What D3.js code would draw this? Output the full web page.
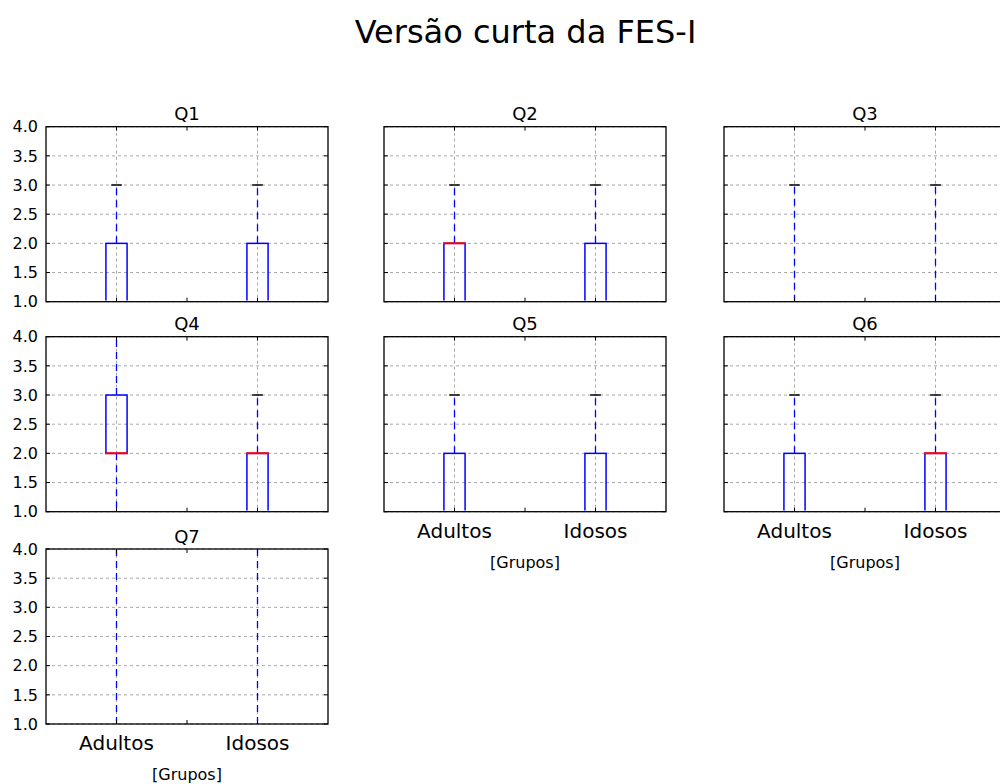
<!DOCTYPE html>
<html>
<head>
<meta charset="utf-8">
<script src="https://cdn.jsdelivr.net/npm/d3@7"></script>
<style>
  body { margin: 0; background: #fff; }
  svg { display: block; }
  text { font-family: "DejaVu Sans", sans-serif; fill: #000; }
</style>
</head>
<body>
<svg id="chart" width="1000" height="784"></svg>
<script>
// ---- data ----
const title = "Versão curta da FES-I";
const groups = ["Adultos", "Idosos"];
const panels = ["Q1", "Q2", "Q3", "Q4", "Q5", "Q6", "Q7"];
const xAxisLabel = "[Grupos]";
const yTicks = [1.0, 1.5, 2.0, 2.5, 3.0, 3.5, 4.0];
// box stats per panel: [lowWhisker, q1, median, q3, highWhisker] for Adultos, Idosos
const statsQ1 = [[1, 1, 1, 2, 3], [1, 1, 1, 2, 3]];
const statsQ2 = [[1, 1, 2, 2, 3], [1, 1, 1, 2, 3]];
const statsQ3 = [[1, 1, 1, 1, 3], [1, 1, 1, 1, 3]];
const statsQ4 = [[1, 2, 2, 3, 4], [1, 1, 2, 2, 3]];
const statsQ5 = [[1, 1, 1, 2, 3], [1, 1, 1, 2, 3]];
const statsQ6 = [[1, 1, 1, 2, 3], [1, 1, 2, 2, 3]];
const statsQ7 = [[1, 1, 1, 1, 4], [1, 1, 1, 1, 4]];
const allStats = [statsQ1, statsQ2, statsQ3, statsQ4, statsQ5, statsQ6, statsQ7];

// ---- layout ----
const svg = d3.select("#chart");
const colLeft = [46, 384, 724];
const rowTop = [126.7, 336.7, 549];
const pw = 282, ph = 175;
const showXLabels = [false, false, false, false, true, true, true];
const showYLabels = [true, false, false, true, false, false, true];

svg.append("text")
  .attr("x", 525.5).attr("y", 43)
  .attr("text-anchor", "middle")
  .style("font-size", "32px")
  .text(title);

const x = d3.scaleLinear().domain([0.5, 2.5]).range([0, pw]);
const y = d3.scaleLinear().domain([1, 4]).range([ph, 0]);
const boxW = 0.15, capW = 0.075;
const gridColor = "#a8a8a8";

panels.forEach((name, i) => {
  const col = i % 3, row = Math.floor(i / 3);
  const g = svg.append("g").attr("transform", `translate(${colLeft[col]},${rowTop[row]})`);
  const clipId = "clip" + i;
  g.append("clipPath").attr("id", clipId)
    .append("rect").attr("x", 1.3).attr("y", 1.3).attr("width", pw - 2.6).attr("height", ph - 2.6);

  // grid
  const grid = g.append("g");
  grid.selectAll("line.h").data(yTicks).join("line")
    .attr("x1", 0).attr("x2", pw)
    .attr("y1", d => y(d)).attr("y2", d => y(d))
    .attr("stroke", gridColor).attr("stroke-width", 1).attr("stroke-dasharray", "3,3");
  grid.selectAll("line.v").data([1, 2]).join("line")
    .attr("y1", 0).attr("y2", ph)
    .attr("x1", d => x(d)).attr("x2", d => x(d))
    .attr("stroke", gridColor).attr("stroke-width", 1).attr("stroke-dasharray", "3,3");

  // boxes
  const marks = g.append("g").attr("clip-path", `url(#${clipId})`);
  allStats[i].forEach((s, k) => {
    const pos = k + 1;
    const [lo, q1, med, q3, hi] = s;
    // whiskers
    marks.append("line")
      .attr("x1", x(pos)).attr("x2", x(pos)).attr("y1", y(q3)).attr("y2", y(hi))
      .attr("stroke", "#0000ff").attr("stroke-width", 1.3).attr("stroke-dasharray", "7,5");
    marks.append("line")
      .attr("x1", x(pos)).attr("x2", x(pos)).attr("y1", y(q1)).attr("y2", y(lo))
      .attr("stroke", "#0000ff").attr("stroke-width", 1.3).attr("stroke-dasharray", "7,5");
    // caps
    [lo, hi].forEach(v => {
      marks.append("line")
        .attr("x1", x(pos - capW / 2)).attr("x2", x(pos + capW / 2))
        .attr("y1", y(v)).attr("y2", y(v))
        .attr("stroke", "#000").attr("stroke-width", 1.5);
    });
    // box
    marks.append("rect")
      .attr("x", x(pos - boxW / 2)).attr("width", x(pos + boxW / 2) - x(pos - boxW / 2))
      .attr("y", y(q3)).attr("height", y(q1) - y(q3))
      .attr("fill", "none").attr("stroke", "#0000ff").attr("stroke-width", 1.5);
    // median
    marks.append("line")
      .attr("x1", x(pos - boxW / 2) - 0.75).attr("x2", x(pos + boxW / 2) + 0.75)
      .attr("y1", y(med)).attr("y2", y(med))
      .attr("stroke", "#ff0000").attr("stroke-width", 2);
  });

  // ticks (inside)
  const tl = 4;
  const ticks = g.append("g").attr("stroke", "#000").attr("stroke-width", 1);
  yTicks.forEach(v => {
    ticks.append("line").attr("x1", 0).attr("x2", tl).attr("y1", y(v)).attr("y2", y(v));
    ticks.append("line").attr("x1", pw - tl).attr("x2", pw).attr("y1", y(v)).attr("y2", y(v));
  });
  [1, 1.5, 2].forEach(v => {
    ticks.append("line").attr("x1", x(v)).attr("x2", x(v)).attr("y1", 0).attr("y2", tl);
    ticks.append("line").attr("x1", x(v)).attr("x2", x(v)).attr("y1", ph - tl).attr("y2", ph);
  });

  // frame
  g.append("rect").attr("x", 0).attr("y", 0).attr("width", pw).attr("height", ph)
    .attr("fill", "none").attr("stroke", "#000").attr("stroke-width", 1.3);

  // title
  g.append("text").attr("x", pw / 2).attr("y", -6.5)
    .attr("text-anchor", "middle").style("font-size", "18px").text(name);

  // y tick labels
  if (showYLabels[i]) {
    g.selectAll("text.yl").data(yTicks).join("text")
      .attr("x", -8).attr("y", d => y(d)).attr("dy", "0.36em")
      .attr("text-anchor", "end").style("font-size", "16px")
      .text(d => d.toFixed(1));
  }
  // x tick labels
  if (showXLabels[i]) {
    g.selectAll("text.xl").data(groups).join("text")
      .attr("x", (d, k) => x(k + 1)).attr("y", ph + 26)
      .attr("text-anchor", "middle").style("font-size", "20px")
      .text(d => d);
    g.append("text").attr("x", pw / 2).attr("y", ph + 56)
      .attr("text-anchor", "middle").style("font-size", "16px").text(xAxisLabel);
  }
});
</script>
</body>
</html>
